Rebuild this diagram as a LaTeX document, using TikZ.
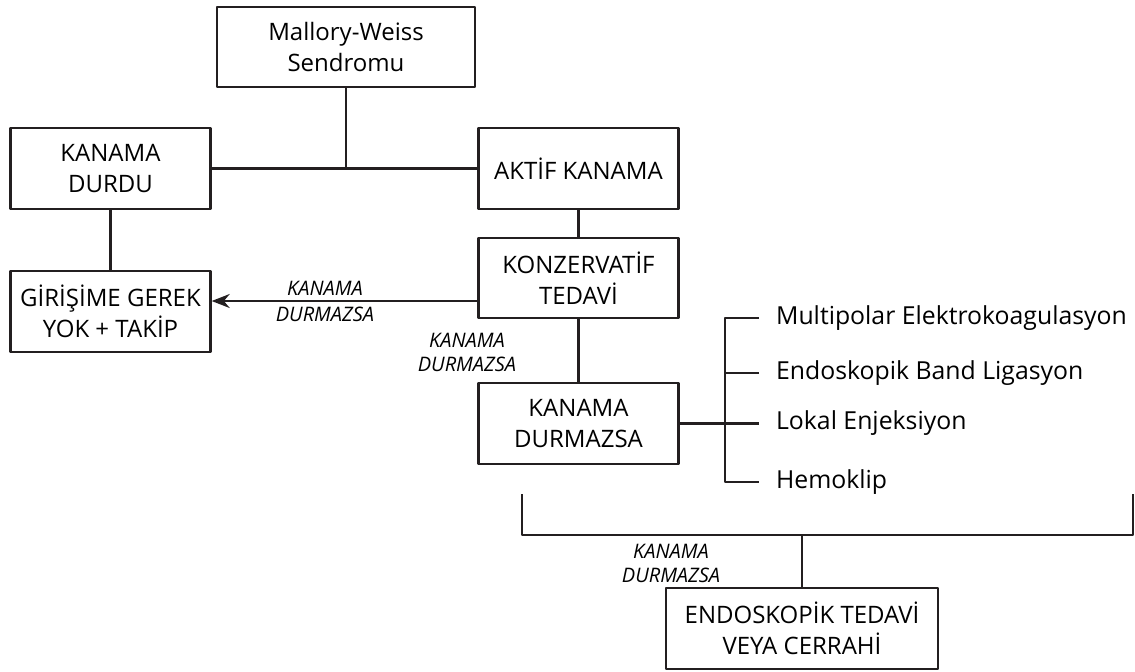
\documentclass[tikz,border=0pt]{standalone}
\usepackage{fontspec}
\setmainfont{Open Sans}
\usetikzlibrary{positioning,arrows.meta}
\definecolor{ink}{HTML}{231F20}
\tikzset{
	kutu/.style={draw=ink, line width=1.2pt, align=center, minimum width=100pt, minimum height=40.5pt, inner sep=2pt, font=\fontsize{12}{15.5}\selectfont},
	etiket/.style={align=center, inner sep=0pt, font=\fontsize{10}{12}\selectfont\itshape},
	secenek/.style={anchor=west, inner sep=0pt, text height=9pt, text depth=3pt, font=\fontsize{12.4}{15}\selectfont}
}
\begin{document}
\begin{tikzpicture}[x=0.5pt, y=-0.5pt, line join=round, line cap=butt, draw=ink, line width=1.1pt, >={Stealth[length=9pt,width=7pt]}]
		\useasboundingbox (0,0) rectangle (1135,671);
		% kutular
		\node[kutu, minimum width=129pt, minimum height=40pt] (mw) at (346,47) {Mallory-Weiss\\Sendromu};
		\node[kutu] (durdu) at (110.5,168.5) {KANAMA\\DURDU};
		\node[kutu] (aktif) at (578.5,168.5) {AKTİF KANAMA};
		\node[kutu] (takip) at (110.5,311.5) {GİRİŞİME GEREK\\YOK + TAKİP};
		\node[kutu, minimum height=40pt] (konz) at (578.5,278) {KONZERVATİF\\TEDAVİ};
		\node[kutu] (durmaz) at (578.5,423.5) {KANAMA\\DURMAZSA};
		\node[kutu, minimum width=136pt] (endo) at (802,628.5) {ENDOSKOPİK TEDAVİ\\VEYA CERRAHİ};
		\node[secenek] (m1) at (775,318) {Multipolar Elektrokoagulasyon};
		\node[secenek] (m2) at (775,373) {Endoskopik Band Ligasyon};
		\node[secenek] (m3) at (775,423.5) {Lokal Enjeksiyon};
		\node[secenek] (m4) at (775,482) {Hemoklip};
		\coordinate (bl) at (522,494); \coordinate (br) at (1133,494); \coordinate (bb) at (522,535);
		\draw (durdu) -- (aktif);
		\draw (mw) -- (mw.south |- aktif.west);
		\draw (durdu) -- (takip);
		\draw (aktif) -- (konz);
		\draw (konz) -- (durmaz);
		\path ([yshift=-11.5pt]konz.west) coordinate (ok);
		\draw[->] (ok) -- (ok -| takip.east);
		\node[etiket, anchor=south] (e1) at (325,297) {KANAMA};
		\node[etiket, anchor=north] (e2) at (325,306) {DURMAZSA};
		\node[etiket] (e3) at (467,352) {KANAMA\\DURMAZSA};
		\node[etiket] (e4) at (671,563) {KANAMA\\DURMAZSA};
		\draw ([xshift=-8pt]m1.west) -| ([xshift=-25pt]m4.west) -- ([xshift=-8pt]m4.west);
		\draw ([xshift=-8pt]m2.west) -- ([xshift=-25pt]m2.west);
		\draw (durmaz) -- ([xshift=-8pt]m3.west);
		\draw (bl) -- (bb) -| (br);
		\draw (endo) -- (endo.north |- bb);
		\end{tikzpicture}
\end{document}
